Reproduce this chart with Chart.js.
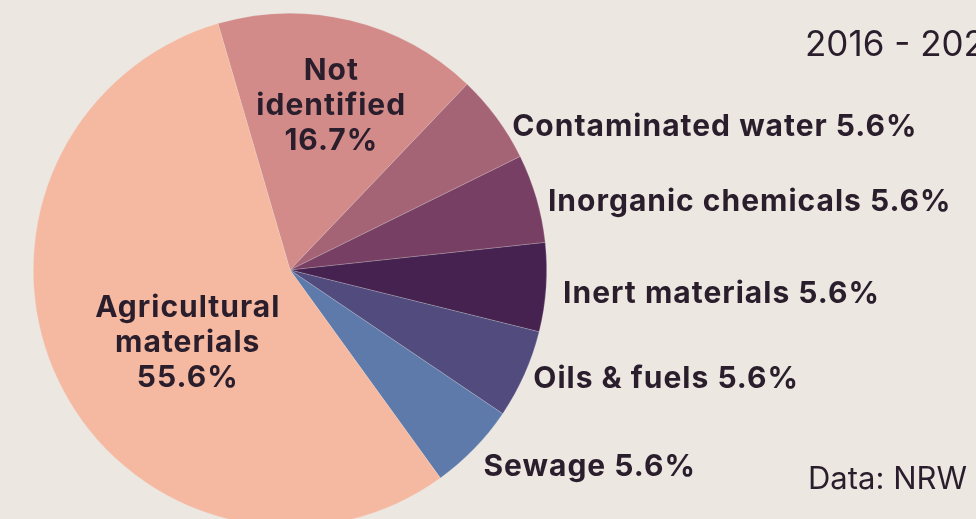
<!DOCTYPE html>
<html>
<head>
<meta charset="utf-8">
<script src="https://cdn.jsdelivr.net/npm/chart.js@4.4.1/dist/chart.umd.min.js"></script>
<style>
  html, body { margin: 0; padding: 0; background: #ECE7E1; overflow: hidden; }
  #wrap { position: relative; width: 976px; height: 540px; }
  .note { position: absolute; font-family: "Inter", sans-serif; color: #2A1E2C; white-space: nowrap; }
  #period { left: 805px; top: 22px; font-size: 35px; }
  #source { left: 808px; top: 459px; font-size: 31px; }
</style>
</head>
<body>
<div id="wrap">
  <canvas id="pie" width="976" height="540"></canvas>
  <div class="note" id="period">2016 - 2023</div>
  <div class="note" id="source">Data: NRW</div>
</div>
<script>
// categories in drawing order (clockwise from the top-left)
const categories = ["Not identified", "Contaminated water", "Inorganic chemicals", "Inert materials", "Oils & fuels", "Sewage", "Agricultural materials"];
const shares = [16.7, 5.6, 5.6, 5.6, 5.6, 5.6, 55.6];
const colors = ["#D38B89", "#A56476", "#773F63", "#45224F", "#514B7E", "#5E7AAB", "#F5B8A0"];
const insideLines = { "Not identified": ["Not", "identified"], "Agricultural materials": ["Agricultural", "materials"] };

const textColor = "#2A1E2C";
const labelFont = "700 30px Inter, sans-serif";
// small hand nudges for the labels (px)
const nudgeX = [0, 4, -2, 3, -4, -1, 13];
const nudgeY = [6, 13, 4, 2, -5, 5, 17];

// labels: big slices get them inside, the small ones to the right of the rim
const sliceLabels = {
  id: "sliceLabels",
  afterDatasetsDraw(chart) {
    const ctx = chart.ctx;
    const arcs = chart.getDatasetMeta(0).data;
    ctx.save();
    ctx.font = labelFont;
    ctx.letterSpacing = "1px";
    ctx.fillStyle = textColor;
    arcs.forEach((arc, i) => {
      const p = arc.getProps(["x", "y", "startAngle", "endAngle", "outerRadius"], true);
      const mid = (p.startAngle + p.endAngle) / 2;
      const name = categories[i];
      const pct = shares[i].toFixed(1) + "%";
      if (insideLines[name]) {
        const lines = insideLines[name].concat([pct]);
        const r = p.outerRadius * (shares[i] > 50 ? 0.5 : 0.68);
        const cx = p.x + Math.cos(mid) * r + nudgeX[i];
        const cy = p.y + Math.sin(mid) * r + nudgeY[i];
        const lh = 35;
        ctx.textAlign = "center";
        ctx.textBaseline = "middle";
        lines.forEach((t, k) => ctx.fillText(t, cx, cy + (k - (lines.length - 1) / 2) * lh));
      } else {
        const r = p.outerRadius + 14;
        const x = p.x + Math.cos(mid) * r + nudgeX[i];
        const y = p.y + Math.sin(mid) * r + 4 + nudgeY[i];
        ctx.textAlign = "left";
        ctx.textBaseline = "middle";
        ctx.fillText(name + " " + pct, x, y);
      }
    });
    ctx.restore();
  }
};

new Chart(document.getElementById("pie").getContext("2d"), {
  type: "pie",
  data: {
    labels: categories,
    datasets: [{
      data: shares,
      backgroundColor: colors,
      borderColor: "rgba(236,231,225,0.35)",
      borderWidth: 0.6
    }]
  },
  options: {
    responsive: false,
    animation: false,
    rotation: -16.3,
    layout: { padding: { left: 33, right: 429, top: 13, bottom: 13 } },
    plugins: {
      legend: { display: false },
      tooltip: { enabled: false }
    }
  },
  plugins: [sliceLabels]
});
</script>
</body>
</html>
